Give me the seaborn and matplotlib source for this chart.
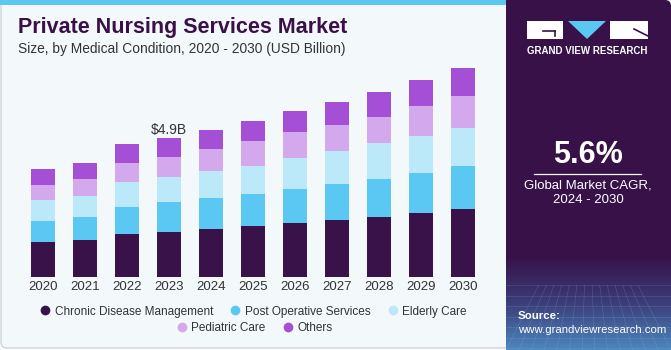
import matplotlib.pyplot as plt
import seaborn as sns
import numpy as np
from matplotlib.patches import Rectangle, FancyBboxPatch, Polygon
from matplotlib.lines import Line2D

# values (USD billion)
years = ['2020', '2021', '2022', '2023', '2024', '2025', '2026', '2027', '2028', '2029', '2030']
chronic = [1.23, 1.31, 1.50, 1.57, 1.68, 1.78, 1.89, 1.99, 2.11, 2.24, 2.38]
post_op = [0.74, 0.79, 0.95, 1.05, 1.09, 1.14, 1.21, 1.29, 1.35, 1.43, 1.53]
elderly = [0.73, 0.76, 0.88, 0.91, 0.96, 0.98, 1.07, 1.16, 1.25, 1.30, 1.34]
pediatric = [0.54, 0.57, 0.68, 0.68, 0.77, 0.88, 0.91, 0.89, 0.92, 1.04, 1.12]
others = [0.54, 0.58, 0.66, 0.68, 0.68, 0.70, 0.76, 0.82, 0.87, 0.90, 0.96]

segments = ['Chronic Disease Management', 'Post Operative Services', 'Elderly Care',
            'Pediatric Care', 'Others']
series = [chronic, post_op, elderly, pediatric, others]
colors = ['#381249', '#5bc8f4', '#bce9f9', '#d4a8ec', '#a54fd6']

plt.rcParams['font.family'] = ['Liberation Sans', 'DejaVu Sans']

W, H = 671, 350
fig = plt.figure(figsize=(W / 100, H / 100), dpi=100)

# background / decoration layer in pixel coordinates
bg = fig.add_axes([0, 0, 1, 1], zorder=0)
bg.set_xlim(0, W)
bg.set_ylim(H, 0)
bg.axis('off')

bg.add_patch(FancyBboxPatch((1, 1), 520, 347, boxstyle='round,pad=0,rounding_size=6',
                            facecolor='#f3f8fb', edgecolor='#cfd3d6', lw=1))
bg.add_patch(Rectangle((0, 0), 507, 5, facecolor='#5bc8f4', lw=0))
bg.add_patch(FancyBboxPatch((506, 0), 165, 350, boxstyle='round,pad=0,rounding_size=6',
                            facecolor='#371148', edgecolor='none'))
bg.add_patch(Rectangle((506, 0), 20, 350, facecolor='#371148', lw=0))

# bluish fade at the bottom of the side panel
grad = np.linspace(0, 1, 100)[:, None]
cmap = sns.blend_palette(['#371148', '#3b3d78', '#4c86bd'], as_cmap=True)
bg.imshow(grad, extent=(506, 671, 350, 255), cmap=cmap, aspect='auto', zorder=1)
for yy in np.linspace(285, 348, 7):
    bg.plot([506, 671], [yy, yy], color='#8fb3dc', lw=0.4, alpha=0.3, zorder=2)
for xx in np.linspace(506, 671, 14):
    bg.plot([588 + (xx - 588) * 0.6, xx], [285, 350], color='#8fb3dc', lw=0.4, alpha=0.3, zorder=2)

# logo
bg.add_patch(Rectangle((527, 21), 36, 18, facecolor='white', lw=0, zorder=3))
bg.plot([543, 555], [31, 31], color='#371148', lw=1.2, zorder=4)
bg.plot([555, 555], [31, 36], color='#371148', lw=1.2, zorder=4)
bg.add_patch(Polygon([(568, 21), (606, 21), (587, 39)], facecolor='#5bc8f4', lw=0, zorder=3))
bg.add_patch(Rectangle((610, 21), 38, 18, facecolor='white', lw=0, zorder=3))
bg.plot([634, 648], [29, 36], color='#371148', lw=1.2, zorder=4)
bg.text(587.5, 51, 'GRAND VIEW RESEARCH', color='white', fontsize=7, fontweight='bold',
        ha='center', va='center', zorder=3)

bg.text(588, 155, '5.6%', color='white', fontsize=22, fontweight='bold',
        ha='center', va='center', zorder=3)
bg.plot([534, 641], [173.5, 173.5], color='white', lw=0.9, zorder=3)
bg.text(588, 185, 'Global Market CAGR,', color='white', fontsize=9.5,
        ha='center', va='center', zorder=3)
bg.text(588, 200, '2024 - 2030', color='white', fontsize=9.5,
        ha='center', va='center', zorder=3)
bg.text(518, 316, 'Source:', color='white', fontsize=8.2, fontweight='bold',
        ha='left', va='center', zorder=3)
bg.text(518, 330, 'www.grandviewresearch.com', color='white', fontsize=8.2,
        ha='left', va='center', zorder=3)

# titles
bg.text(18, 28, 'Private Nursing Services Market', color='#3a1048', fontsize=15.5,
        fontweight='bold', ha='left', va='center')
bg.text(18, 49.5, 'Size, by Medical Condition, 2020 - 2030 (USD Billion)', color='#333333',
        fontsize=9.9, ha='left', va='center')

# chart area
x0, x1, ytop, ybase = 22, 484, 60, 277
ax = fig.add_axes([x0 / W, (H - ybase) / H, (x1 - x0) / W, (ybase - ytop) / H], zorder=1)
ax.patch.set_alpha(0)

cum = np.cumsum(np.array(series), axis=0)
for i in range(len(series) - 1, -1, -1):
    sns.barplot(x=years, y=cum[i], color=colors[i], saturation=1, width=0.57,
                linewidth=0, ax=ax)

ax.set_xlim(-0.5, len(years) - 0.5)
ax.set_ylim(0, (ybase - ytop) * 4.9 / 139.4)
ax.set_xlabel('')
ax.set_ylabel('')
ax.set_yticks([])
sns.despine(ax=ax, left=True, bottom=True)
ax.tick_params(axis='x', length=0, pad=3, labelsize=9.5, labelcolor='#333333')

total_2023 = cum[-1][3]
ax.text(3, total_2023 + 0.28, '$4.9B', ha='center', va='center', fontsize=10, color='#333333')

# legend in two centred rows
handles = [Line2D([], [], marker='o', ls='', markersize=7, markerfacecolor=c,
                  markeredgecolor='none') for c in colors]
kw = dict(frameon=False, fontsize=8.5, handletextpad=0.3, columnspacing=1.4,
          handlelength=1.0, borderpad=0, labelcolor='#333333')
fig.legend(handles[:3], segments[:3], ncol=3, loc='center',
           bbox_to_anchor=(253 / W, 1 - 311.5 / H), **kw)
fig.legend(handles[3:], segments[3:], ncol=2, loc='center',
           bbox_to_anchor=(254 / W, 1 - 328 / H), **kw)

fig.savefig('out.png', dpi=100)
